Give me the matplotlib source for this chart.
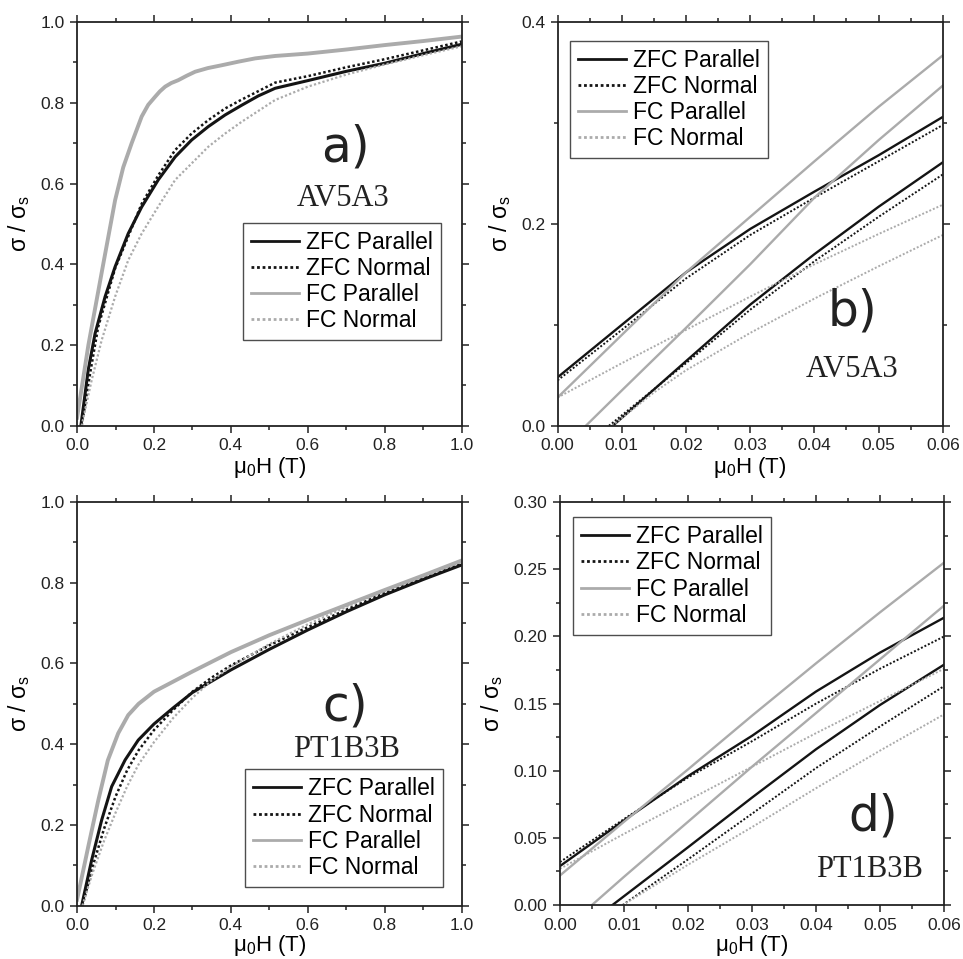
import matplotlib
matplotlib.use("Agg")
import matplotlib.pyplot as plt
from matplotlib.ticker import MultipleLocator

plt.rcParams['font.family'] = ['Liberation Sans', 'DejaVu Sans']
plt.rcParams['mathtext.default'] = 'regular'

BLACK = '#141414'
GRAY = '#ababab'
DOT = (0, (1, 1))

labels = ['ZFC Parallel', 'ZFC Normal', 'FC Parallel', 'FC Normal']

# ---- panel a: AV5A3, 0-1 T ----
a_zfc_par_x = [0.01, 0.029, 0.047, 0.073, 0.099, 0.133, 0.168, 0.211, 0.255, 0.298, 0.341, 0.385, 0.428, 0.471, 0.515, 0.6, 0.7, 0.8, 0.9, 1.0]
a_zfc_par_y = [0.0, 0.138, 0.229, 0.32, 0.394, 0.476, 0.542, 0.609, 0.666, 0.708, 0.741, 0.77, 0.794, 0.817, 0.836, 0.855, 0.878, 0.898, 0.922, 0.945]
a_zfc_nor_x = [0.012, 0.034, 0.055, 0.099, 0.168, 0.211, 0.255, 0.298, 0.341, 0.385, 0.428, 0.515, 0.6, 0.7, 0.8, 0.9, 1.0]
a_zfc_nor_y = [0.0, 0.13, 0.245, 0.39, 0.55, 0.62, 0.683, 0.724, 0.757, 0.786, 0.808, 0.85, 0.866, 0.888, 0.908, 0.93, 0.952]
a_fc_par_x = [0.0, 0.0295, 0.068, 0.099, 0.12, 0.142, 0.168, 0.185, 0.203, 0.215, 0.229, 0.245, 0.263, 0.285, 0.307, 0.34, 0.376, 0.42, 0.463, 0.515, 0.6, 0.7, 0.8, 0.9, 1.0]
a_fc_par_y = [0.02, 0.2, 0.4, 0.559, 0.64, 0.70, 0.766, 0.795, 0.815, 0.828, 0.84, 0.849, 0.856, 0.867, 0.877, 0.886, 0.893, 0.902, 0.91, 0.916, 0.922, 0.932, 0.943, 0.953, 0.964]
a_fc_nor_x = [0.012, 0.038, 0.064, 0.099, 0.133, 0.168, 0.211, 0.255, 0.298, 0.341, 0.385, 0.428, 0.515, 0.6, 0.7, 0.8, 0.9, 1.0]
a_fc_nor_y = [0.0, 0.113, 0.212, 0.32, 0.41, 0.476, 0.543, 0.609, 0.65, 0.691, 0.724, 0.753, 0.807, 0.84, 0.87, 0.895, 0.918, 0.94]

# ---- panel b: AV5A3, low field, both branches ----
b_x = [0.0, 0.01, 0.02, 0.03, 0.04, 0.05, 0.06]
b_zfc_par_up = [0.048, 0.100, 0.152, 0.195, 0.232, 0.268, 0.306]
b_zfc_nor_up = [0.045, 0.095, 0.146, 0.189, 0.226, 0.262, 0.298]
b_fc_par_up = [0.028, 0.09, 0.152, 0.207, 0.262, 0.316, 0.367]
b_fc_nor_up = [0.028, 0.062, 0.095, 0.128, 0.16, 0.19, 0.219]
b_zfc_par_lo_x = [0.0086, 0.02, 0.03, 0.04, 0.05, 0.06]
b_zfc_par_lo = [0.0, 0.064, 0.12, 0.17, 0.217, 0.261]
b_zfc_nor_lo_x = [0.008, 0.02, 0.03, 0.04, 0.05, 0.06]
b_zfc_nor_lo = [0.0, 0.062, 0.115, 0.163, 0.207, 0.249]
b_fc_par_lo_x = [0.0044, 0.01, 0.02, 0.03, 0.04, 0.05, 0.06]
b_fc_par_lo = [0.0, 0.035, 0.097, 0.160, 0.226, 0.283, 0.337]
b_fc_nor_lo_x = [0.0085, 0.015, 0.02, 0.03, 0.04, 0.05, 0.06]
b_fc_nor_lo = [0.0, 0.033, 0.055, 0.092, 0.126, 0.158, 0.189]

# ---- panel c: PT1B3B, 0-1 T ----
c_zfc_par_x = [0.012, 0.038, 0.064, 0.09, 0.125, 0.159, 0.2, 0.25, 0.3, 0.4, 0.5, 0.6, 0.7, 0.8, 0.9, 1.0]
c_zfc_par_y = [0.0, 0.113, 0.212, 0.295, 0.361, 0.41, 0.45, 0.49, 0.528, 0.584, 0.635, 0.683, 0.728, 0.77, 0.808, 0.844]
c_zfc_nor_x = [0.014, 0.04, 0.07, 0.1, 0.13, 0.16, 0.2, 0.25, 0.3, 0.35, 0.4, 0.5, 0.6, 0.7, 0.8, 0.9, 1.0]
c_zfc_nor_y = [0.0, 0.095, 0.19, 0.27, 0.335, 0.385, 0.435, 0.485, 0.53, 0.565, 0.595, 0.645, 0.69, 0.733, 0.775, 0.811, 0.847]
c_fc_par_x = [0.0, 0.03, 0.055, 0.08, 0.107, 0.133, 0.16, 0.2, 0.25, 0.3, 0.4, 0.5, 0.6, 0.7, 0.8, 0.9, 1.0]
c_fc_par_y = [0.015, 0.15, 0.26, 0.36, 0.427, 0.472, 0.50, 0.53, 0.555, 0.58, 0.628, 0.67, 0.708, 0.745, 0.782, 0.818, 0.855]
c_fc_nor_x = [0.014, 0.04, 0.07, 0.1, 0.13, 0.16, 0.2, 0.25, 0.3, 0.35, 0.4, 0.5, 0.6, 0.7, 0.8, 0.9, 1.0]
c_fc_nor_y = [0.0, 0.08, 0.16, 0.23, 0.295, 0.35, 0.405, 0.465, 0.515, 0.558, 0.592, 0.648, 0.697, 0.74, 0.78, 0.817, 0.852]

# ---- panel d: PT1B3B, low field, both branches ----
d_x = [0.0, 0.01, 0.02, 0.03, 0.04, 0.05, 0.06]
d_zfc_par_up = [0.029, 0.063, 0.096, 0.126, 0.159, 0.188, 0.214]
d_zfc_nor_up = [0.032, 0.064, 0.095, 0.122, 0.15, 0.176, 0.2]
d_fc_par_up = [0.022, 0.062, 0.101, 0.141, 0.18, 0.218, 0.255]
d_fc_nor_up = [0.027, 0.053, 0.078, 0.103, 0.128, 0.152, 0.176]
d_zfc_par_lo_x = [0.0082, 0.02, 0.03, 0.04, 0.05, 0.06]
d_zfc_par_lo = [0.0, 0.043, 0.08, 0.116, 0.149, 0.179]
d_zfc_nor_lo_x = [0.0098, 0.02, 0.03, 0.04, 0.05, 0.06]
d_zfc_nor_lo = [0.0, 0.034, 0.068, 0.102, 0.133, 0.163]
d_fc_par_lo_x = [0.005, 0.01, 0.02, 0.03, 0.04, 0.05, 0.06]
d_fc_par_lo = [0.0, 0.021, 0.062, 0.103, 0.143, 0.183, 0.223]
d_fc_nor_lo_x = [0.0098, 0.02, 0.03, 0.04, 0.05, 0.06]
d_fc_nor_lo = [0.0, 0.03, 0.058, 0.087, 0.115, 0.142]

styles = [dict(color=BLACK, ls='-'), dict(color=BLACK, ls=DOT),
          dict(color=GRAY, ls='-'), dict(color=GRAY, ls=DOT)]


def style_axes(ax, xmax, xmaj, xmin, ymax, ymaj, ymin, xfmt, yfmt, xpad=1):
    ax.set_xlim(0, xmax)
    ax.set_ylim(0, ymax)
    ax.xaxis.set_major_locator(MultipleLocator(xmaj))
    ax.xaxis.set_minor_locator(MultipleLocator(xmin))
    ax.yaxis.set_major_locator(MultipleLocator(ymaj))
    ax.yaxis.set_minor_locator(MultipleLocator(ymin))
    ax.xaxis.set_major_formatter(plt.FormatStrFormatter(xfmt))
    ax.yaxis.set_major_formatter(plt.FormatStrFormatter(yfmt))
    ax.tick_params(which='both', direction='out', top=True, right=True,
                   labeltop=False, labelright=False, width=1.1, labelsize=12.5,
                   colors='#222222', pad=4)
    ax.tick_params(which='major', length=5)
    ax.tick_params(which='minor', length=3)
    for s in ax.spines.values():
        s.set_linewidth(1.3)
        s.set_color('#222222')
    ax.set_xlabel('\u03bc$_0$H (T)', fontsize=16, labelpad=xpad)
    ax.set_ylabel('\u03c3 / \u03c3$_s$', fontsize=16.5, labelpad=6)


def add_legend(ax, handles, **kw):
    leg = ax.legend(handles, labels, fontsize=16.5, frameon=True, fancybox=False,
                    edgecolor='#222222', handlelength=2.1, handletextpad=0.3,
                    labelspacing=0.14, borderpad=0.35, borderaxespad=0, **kw)
    leg.get_frame().set_linewidth(1.0)
    return leg


def tags(ax, letter, lx, ly, name, nx, ny):
    ax.text(lx, ly, letter, transform=ax.transAxes, fontsize=35, ha='center', va='center',
            family='DejaVu Sans', fontweight='normal', color='#222222')
    ax.text(nx, ny, name, transform=ax.transAxes, fontsize=22, ha='center', va='center',
            family='Liberation Serif', color='#222222')


fig = plt.figure(figsize=(9.63, 9.59), dpi=100)
ax_a = fig.add_axes([0.080, 0.556, 0.3995, 0.421])
ax_b = fig.add_axes([0.579, 0.556, 0.400, 0.421])
ax_c = fig.add_axes([0.080, 0.0556, 0.3995, 0.421])
ax_d = fig.add_axes([0.5815, 0.0563, 0.3988, 0.420])

# panel a
big_a = [(a_zfc_par_x, a_zfc_par_y), (a_zfc_nor_x, a_zfc_nor_y),
         (a_fc_par_x, a_fc_par_y), (a_fc_nor_x, a_fc_nor_y)]
lws_big = [2.2, 1.8, 2.8, 1.6]
for (x, y), st, lw in zip(big_a, styles, lws_big):
    ax_a.plot(x, y, lw=lw, **st)
style_axes(ax_a, 1.0, 0.2, 0.1, 1.0, 0.2, 0.1, '%.1f', '%.1f')
leg_h = [plt.Line2D([], [], lw=2.0, **s) for s in styles]
add_legend(ax_a, leg_h, loc='lower right', bbox_to_anchor=(0.946, 0.212))
tags(ax_a, 'a)', 0.697, 0.69, 'AV5A3', 0.692, 0.564)

# panel c
big_c = [(c_zfc_par_x, c_zfc_par_y), (c_zfc_nor_x, c_zfc_nor_y),
         (c_fc_par_x, c_fc_par_y), (c_fc_nor_x, c_fc_nor_y)]
for (x, y), st, lw in zip(big_c, styles, lws_big):
    ax_c.plot(x, y, lw=lw, **st)
style_axes(ax_c, 1.0, 0.2, 0.1, 1.0, 0.2, 0.1, '%.1f', '%.1f', xpad=0)
add_legend(ax_c, leg_h, loc='lower right', bbox_to_anchor=(0.951, 0.046))
tags(ax_c, 'c)', 0.697, 0.493, 'PT1B3B', 0.701, 0.387)

# panel b
b_up = [b_zfc_par_up, b_zfc_nor_up, b_fc_par_up, b_fc_nor_up]
b_lo = [(b_zfc_par_lo_x, b_zfc_par_lo), (b_zfc_nor_lo_x, b_zfc_nor_lo),
        (b_fc_par_lo_x, b_fc_par_lo), (b_fc_nor_lo_x, b_fc_nor_lo)]
lws_small = [1.7, 1.4, 1.7, 1.4]
for yu, (xl, yl), st, lw in zip(b_up, b_lo, styles, lws_small):
    ax_b.plot(b_x, yu, lw=lw, **st)
    ax_b.plot(xl, yl, lw=lw, **st)
style_axes(ax_b, 0.06, 0.01, 0.005, 0.4, 0.2, 0.1, '%.2f', '%.1f')
add_legend(ax_b, leg_h, loc='upper left', bbox_to_anchor=(0.032, 0.954))
tags(ax_b, 'b)', 0.766, 0.282, 'AV5A3', 0.765, 0.139)

# panel d
d_up = [d_zfc_par_up, d_zfc_nor_up, d_fc_par_up, d_fc_nor_up]
d_lo = [(d_zfc_par_lo_x, d_zfc_par_lo), (d_zfc_nor_lo_x, d_zfc_nor_lo),
        (d_fc_par_lo_x, d_fc_par_lo), (d_fc_nor_lo_x, d_fc_nor_lo)]
for yu, (xl, yl), st, lw in zip(d_up, d_lo, styles, lws_small):
    ax_d.plot(d_x, yu, lw=lw, **st)
    ax_d.plot(xl, yl, lw=lw, **st)
style_axes(ax_d, 0.06, 0.01, 0.005, 0.30, 0.05, 0.025, '%.2f', '%.2f', xpad=0)
add_legend(ax_d, leg_h, loc='upper left', bbox_to_anchor=(0.033, 0.963))
tags(ax_d, 'd)', 0.816, 0.219, 'PT1B3B', 0.807, 0.089)

fig.savefig('out.png', dpi=100)
